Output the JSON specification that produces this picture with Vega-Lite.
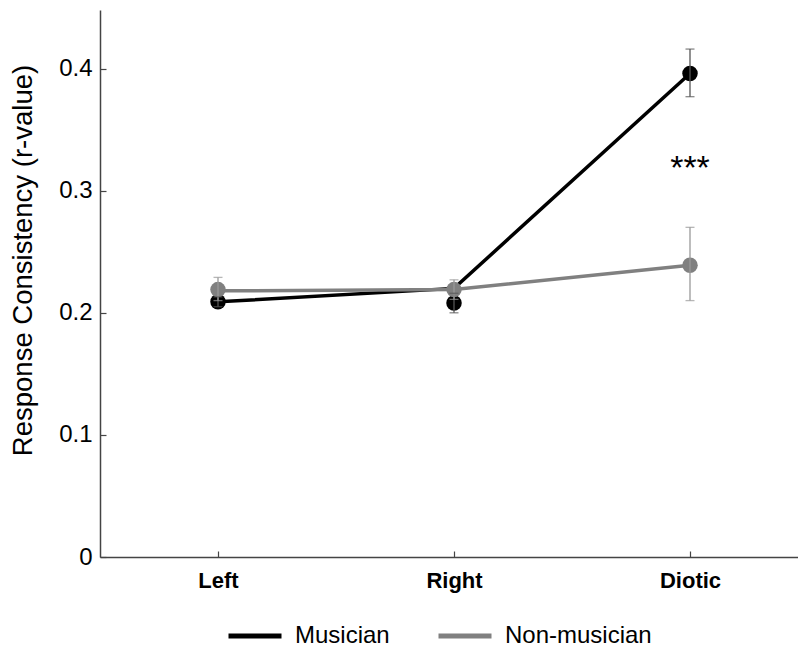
{
  "$schema": "https://vega.github.io/schema/vega-lite/v6.json",
  "autosize": {"type": "none"},
  "width": 708,
  "height": 547,
  "padding": {"left": 100, "top": 10, "right": -10, "bottom": 91},
  "background": "white",
  "config": {
    "view": {"stroke": null},
    "font": "Liberation Sans",
    "axis": {"domainColor": "#444", "tickColor": "#444", "labelColor": "#000", "titleColor": "#000", "grid": false, "domainWidth": 1.5, "tickWidth": 1.2}
  },
  "datasets": {
    "pts": [
      {"condition": "Left", "group": "Musician", "mean": 0.209, "line": 0.209, "lo": 0.205, "hi": 0.213},
      {"condition": "Right", "group": "Musician", "mean": 0.208, "line": 0.22, "lo": 0.2, "hi": 0.216},
      {"condition": "Diotic", "group": "Musician", "mean": 0.396, "line": 0.396, "lo": 0.377, "hi": 0.416},
      {"condition": "Left", "group": "Non-musician", "mean": 0.219, "line": 0.218, "lo": 0.21, "hi": 0.229},
      {"condition": "Right", "group": "Non-musician", "mean": 0.219, "line": 0.219, "lo": 0.211, "hi": 0.227},
      {"condition": "Diotic", "group": "Non-musician", "mean": 0.239, "line": 0.239, "lo": 0.21, "hi": 0.27}
    ],
    "sig": [{"condition": "Diotic", "y": 0.318, "label": "***"}]
  },
  "layer": [
    {
      "data": {"name": "pts"},
      "mark": {"type": "line", "strokeWidth": 3.5},
      "encoding": {
        "x": {"field": "condition", "type": "nominal", "sort": ["Left", "Right", "Diotic"],
              "scale": {"type": "point", "padding": 0.5},
              "axis": {"title": null, "labelFontSize": 22, "labelFontWeight": "bold", "tickSize": -6, "labelPadding": 19, "labelAngle": 0}},
        "y": {"field": "line", "type": "quantitative", "scale": {"domain": [0, 0.448], "nice": false},
              "axis": {"title": "Response Consistency (r-value)", "titleFontSize": 27.5, "titleFontWeight": "normal", "labelFontSize": 24, "values": [0, 0.1, 0.2, 0.3, 0.4], "format": ".1~f", "tickSize": -6, "labelPadding": 14, "titlePadding": 21, "titleY": 250}},
        "color": {"field": "group", "type": "nominal",
                  "scale": {"domain": ["Musician", "Non-musician"], "range": ["#000000", "#808080"]},
                  "legend": {"title": null, "orient": "none", "legendX": 126, "legendY": 597, "direction": "horizontal",
                             "symbolType": "stroke", "symbolSize": 2809, "symbolStrokeWidth": 5,
                             "labelFontSize": 24, "columnPadding": 38, "labelOffset": 11, "padding": 0}}
      }
    },
    {
      "data": {"name": "pts"},
      "mark": {"type": "circle", "size": 240, "opacity": 1},
      "encoding": {
        "x": {"field": "condition", "type": "nominal", "sort": ["Left", "Right", "Diotic"]},
        "y": {"field": "mean", "type": "quantitative"},
        "color": {"field": "group", "type": "nominal", "legend": null}
      }
    },
    {
      "data": {"name": "pts"},
      "mark": {"type": "rule", "strokeWidth": 1.3},
      "encoding": {
        "x": {"field": "condition", "type": "nominal", "sort": ["Left", "Right", "Diotic"]},
        "y": {"field": "lo", "type": "quantitative"},
        "y2": {"field": "hi"},
        "color": {"condition": {"test": "datum.group === 'Musician'", "value": "#555"}, "value": "#999"}
      }
    },
    {
      "data": {"name": "pts"},
      "mark": {"type": "tick", "orient": "horizontal", "size": 9, "thickness": 1.3},
      "encoding": {
        "x": {"field": "condition", "type": "nominal", "sort": ["Left", "Right", "Diotic"]},
        "y": {"field": "lo", "type": "quantitative"},
        "color": {"condition": {"test": "datum.group === 'Musician'", "value": "#555"}, "value": "#999"}
      }
    },
    {
      "data": {"name": "pts"},
      "mark": {"type": "tick", "orient": "horizontal", "size": 9, "thickness": 1.3},
      "encoding": {
        "x": {"field": "condition", "type": "nominal", "sort": ["Left", "Right", "Diotic"]},
        "y": {"field": "hi", "type": "quantitative"},
        "color": {"condition": {"test": "datum.group === 'Musician'", "value": "#555"}, "value": "#999"}
      }
    },
    {
      "data": {"name": "sig"},
      "mark": {"type": "text", "fontSize": 34, "baseline": "middle", "align": "center", "color": "#000"},
      "encoding": {
        "x": {"field": "condition", "type": "nominal", "sort": ["Left", "Right", "Diotic"]},
        "y": {"field": "y", "type": "quantitative"},
        "text": {"field": "label"}
      }
    }
  ]
}
